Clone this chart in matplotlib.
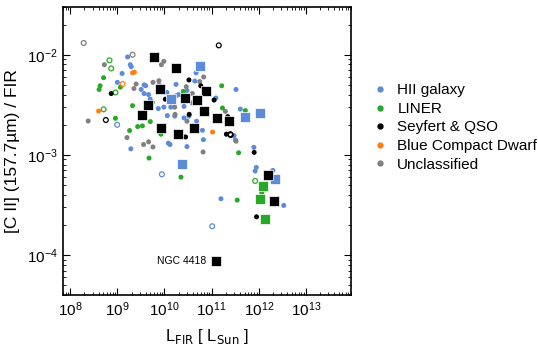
import matplotlib.pyplot as plt
from matplotlib.lines import Line2D

plt.rcParams['font.family'] = ['Liberation Sans', 'DejaVu Sans']

# colours for each class
c_hii = '#5b8bd9'
c_liner = '#27a827'
c_sey = '#000000'
c_bcd = '#ff7f0e'
c_unc = '#808080'

# ---- HII galaxies ----
hii_L = [1.65e9, 1.88e9, 1.97e9, 1.26e9, 4.7e10, 1.0e9, 3.7e9, 3.2e9, 4.0e9, 7.7e9,
         1.13e10, 3.3e11, 3.7e9, 4.6e9, 1.78e10, 2.0e10, 3.0e10, 1.23e11, 7.4e9, 9.7e9,
         1.36e10, 2.6e10, 3.9e10, 1.15e10, 1.65e10, 2.6e10, 3.3e10, 4.8e10, 6.4e10, 6.7e10,
         3.2e11, 1.21e10, 1.31e10, 3.0e10, 1.93e9, 4.07e11, 2.99e11, 7.9e11, 1.58e11, 8.9e11,
         8.4e11, 2.0e12, 3.4e12, 1.76e10, 4.4e10, 4.97e9]
hii_R = [9.5e-3, 7.95e-3, 7.6e-3, 6.5e-3, 6.6e-3, 5.3e-3, 5.0e-3, 4.5e-3, 4.9e-3, 5.0e-3,
         4.2e-3, 4.5e-3, 4.1e-3, 4.0e-3, 3.9e-3, 4.0e-3, 4.4e-3, 3.7e-3, 2.9e-3, 3.0e-3,
         3.0e-3, 3.05e-3, 3.3e-3, 2.47e-3, 2.44e-3, 2.34e-3, 2.44e-3, 2.17e-3, 1.76e-3, 1.42e-3,
         1.41e-3, 1.31e-3, 1.27e-3, 1.21e-3, 1.15e-3, 2.87e-3, 1.56e-3, 1.19e-3, 3.65e-4, 7.5e-4,
         6.9e-4, 7.0e-4, 3.13e-4, 5.06e-3, 5.46e-3, 3.6e-3]
hii_open_L = [9.9e8, 8.8e9, 1.03e11]
hii_open_R = [2.0e-3, 6.4e-4, 1.94e-4]
hii_sq_L = [5.6e10, 1.40e10, 2.3e10, 1.08e12, 5.1e11, 2.2e12]
hii_sq_R = [7.8e-3, 3.65e-3, 8.2e-4, 2.64e-3, 2.37e-3, 5.8e-4]

# ---- LINERs ----
liner_L = [5.1e8, 4.3e8, 4.1e8, 1.16e9, 1.64e11, 5.5e9, 2.1e9, 1.70e11, 9.1e8, 5.0e9,
           1.82e9, 2.7e9, 3.4e9, 8.4e9, 3.75e11, 4.7e9, 2.24e10, 3.5e11, 5.2e11, 1.16e12,
           2.5e10]
liner_R = [5.9e-3, 4.9e-3, 4.5e-3, 4.75e-3, 4.9e-3, 3.35e-3, 3.1e-3, 2.94e-3, 2.32e-3, 2.15e-3,
           1.75e-3, 1.92e-3, 1.95e-3, 1.61e-3, 1.05e-3, 9.3e-4, 6.0e-4, 3.54e-4, 2.77e-3, 4.2e-4,
           4.3e-3]
liner_open_L = [6.8e8, 7.4e8, 9.1e8, 5.1e8, 8.4e11]
liner_open_R = [8.8e-3, 7.3e-3, 4.2e-3, 2.85e-3, 5.5e-4]
liner_sq_L = [1.22e12, 1.05e12, 1.35e12]
liner_sq_R = [4.84e-4, 3.6e-4, 2.28e-4]

# ---- Seyferts & QSOs ----
sey_L = [3.3e10, 7.4e8, 5.9e10, 1.04e10, 1.13e11, 2.2e11, 2.8e10, 2.06e11, 8.0e11, 9.0e11,
         3.35e10]
sey_R = [5.6e-3, 4.1e-3, 4.9e-3, 3.6e-3, 3.53e-3, 2.41e-3, 1.51e-3, 1.61e-3, 1.06e-3, 2.41e-4,
         2.54e-3]
sey_open_L = [1.42e11, 5.7e8, 2.54e11, 2.5e11]
sey_open_R = [1.24e-2, 2.23e-3, 1.58e-3, 1.61e-3]
sey_sq_L = [6.1e9, 1.78e10, 8.0e9, 7.7e10, 2.7e10, 4.9e10, 4.4e9, 6.95e10, 3.4e9, 1.31e11,
            2.34e11, 8.6e9, 1.96e10, 4.3e10, 1.56e12, 2.08e12, 1.25e11]
sey_sq_R = [9.55e-3, 7.35e-3, 4.58e-3, 4.33e-3, 3.73e-3, 3.56e-3, 3.13e-3, 2.72e-3, 2.52e-3, 2.31e-3,
            2.17e-3, 1.85e-3, 1.63e-3, 1.85e-3, 6.3e-4, 3.5e-4, 8.7e-5]

# ---- Blue compact dwarfs ----
bcd_L = [2.1e9, 2.3e9, 4.0e8, 1.05e11]
bcd_R = [6.6e-3, 6.7e-3, 2.74e-3, 1.69e-3]
bcd_open_L = [1.29e9]
bcd_open_R = [5.1e-3]

# ---- Unclassified ----
unc_L = [5.3e8, 9.7e9, 8.6e9, 5.6e10, 6.8e10, 2.5e9, 2.25e9, 5.7e9, 7.6e9, 3.9e10,
         1.65e10, 1.96e11, 3.0e10, 1.6e9, 3.6e9, 4.6e9, 5.7e9, 6.6e10, 3.3e11, 2.4e8,
         2.9e10, 1.68e10]
unc_R = [7.95e-3, 8.6e-3, 7.95e-3, 5.4e-3, 6.0e-3, 5.1e-3, 4.6e-3, 5.3e-3, 5.5e-3, 4.1e-3,
         3.0e-3, 2.72e-3, 2.17e-3, 1.49e-3, 1.27e-3, 1.35e-3, 1.2e-3, 1.07e-3, 1.37e-3, 2.18e-3,
         4.8e-3, 2.54e-3]
unc_open_L = [1.93e8, 2.1e9]
unc_open_R = [1.31e-2, 1.0e-2]

ngc4418 = (1.25e11, 8.7e-5)

fig = plt.figure(figsize=(5.38, 3.47), dpi=100)
ax = fig.add_axes([0.117, 0.150, 0.535, 0.830])

dot_s = 13
open_s = 12
sq_s = 55

groups = [
    (c_hii, hii_L, hii_R, hii_open_L, hii_open_R),
    (c_unc, unc_L, unc_R, unc_open_L, unc_open_R),
    (c_liner, liner_L, liner_R, liner_open_L, liner_open_R),
    (c_bcd, bcd_L, bcd_R, bcd_open_L, bcd_open_R),
    (c_sey, sey_L, sey_R, sey_open_L, sey_open_R),
]
for col, L, R, oL, oR in groups:
    ax.scatter(L, R, s=dot_s, color=col, edgecolors='none', zorder=2)
    ax.scatter(oL, oR, s=open_s, facecolors='none', edgecolors=col, linewidths=0.9, zorder=2)

# squares drawn on top
for col, sL, sR in [(c_hii, hii_sq_L, hii_sq_R), (c_liner, liner_sq_L, liner_sq_R),
                    (c_sey, sey_sq_L, sey_sq_R)]:
    ax.scatter(sL, sR, s=sq_s, marker='s', color=col, edgecolors='white',
               linewidths=0.5, zorder=3)

ax.annotate('NGC 4418', xy=ngc4418, xytext=(-7, 0), textcoords='offset points',
            ha='right', va='center', fontsize=7.5)

ax.set_xscale('log')
ax.set_yscale('log')
ax.set_xlim(7e7, 9e13)
ax.set_ylim(4e-5, 3e-2)
ax.set_xticks([1e8, 1e9, 1e10, 1e11, 1e12, 1e13])
ax.tick_params(which='both', direction='in', top=True, right=True, labelsize=11)
ax.tick_params(which='major', length=5, width=0.8, pad=4)
ax.tick_params(which='minor', length=2.5, width=0.6)
for sp in ax.spines.values():
    sp.set_linewidth(1.2)

ax.set_xlabel(r'L$_{\mathrm{FIR}}$ [ L$_{\mathrm{Sun}}$ ]', fontsize=12, labelpad=6)
ax.set_ylabel('[C II] (157.7µm) / FIR', fontsize=12.5, labelpad=5)

handles = [Line2D([], [], marker='o', ls='none', color=c, markersize=3.5)
           for c in [c_hii, c_liner, c_sey, c_bcd, c_unc]]
labels = ['HII galaxy', 'LINER', 'Seyfert & QSO', 'Blue Compact Dwarf', 'Unclassified']
fig.legend(handles, labels, loc='upper left', bbox_to_anchor=(0.693, 0.76),
           frameon=False, fontsize=11, handletextpad=0.6, labelspacing=0.3,
           handlelength=1.0, borderaxespad=0, borderpad=0)

fig.savefig('out.png', dpi=100)
